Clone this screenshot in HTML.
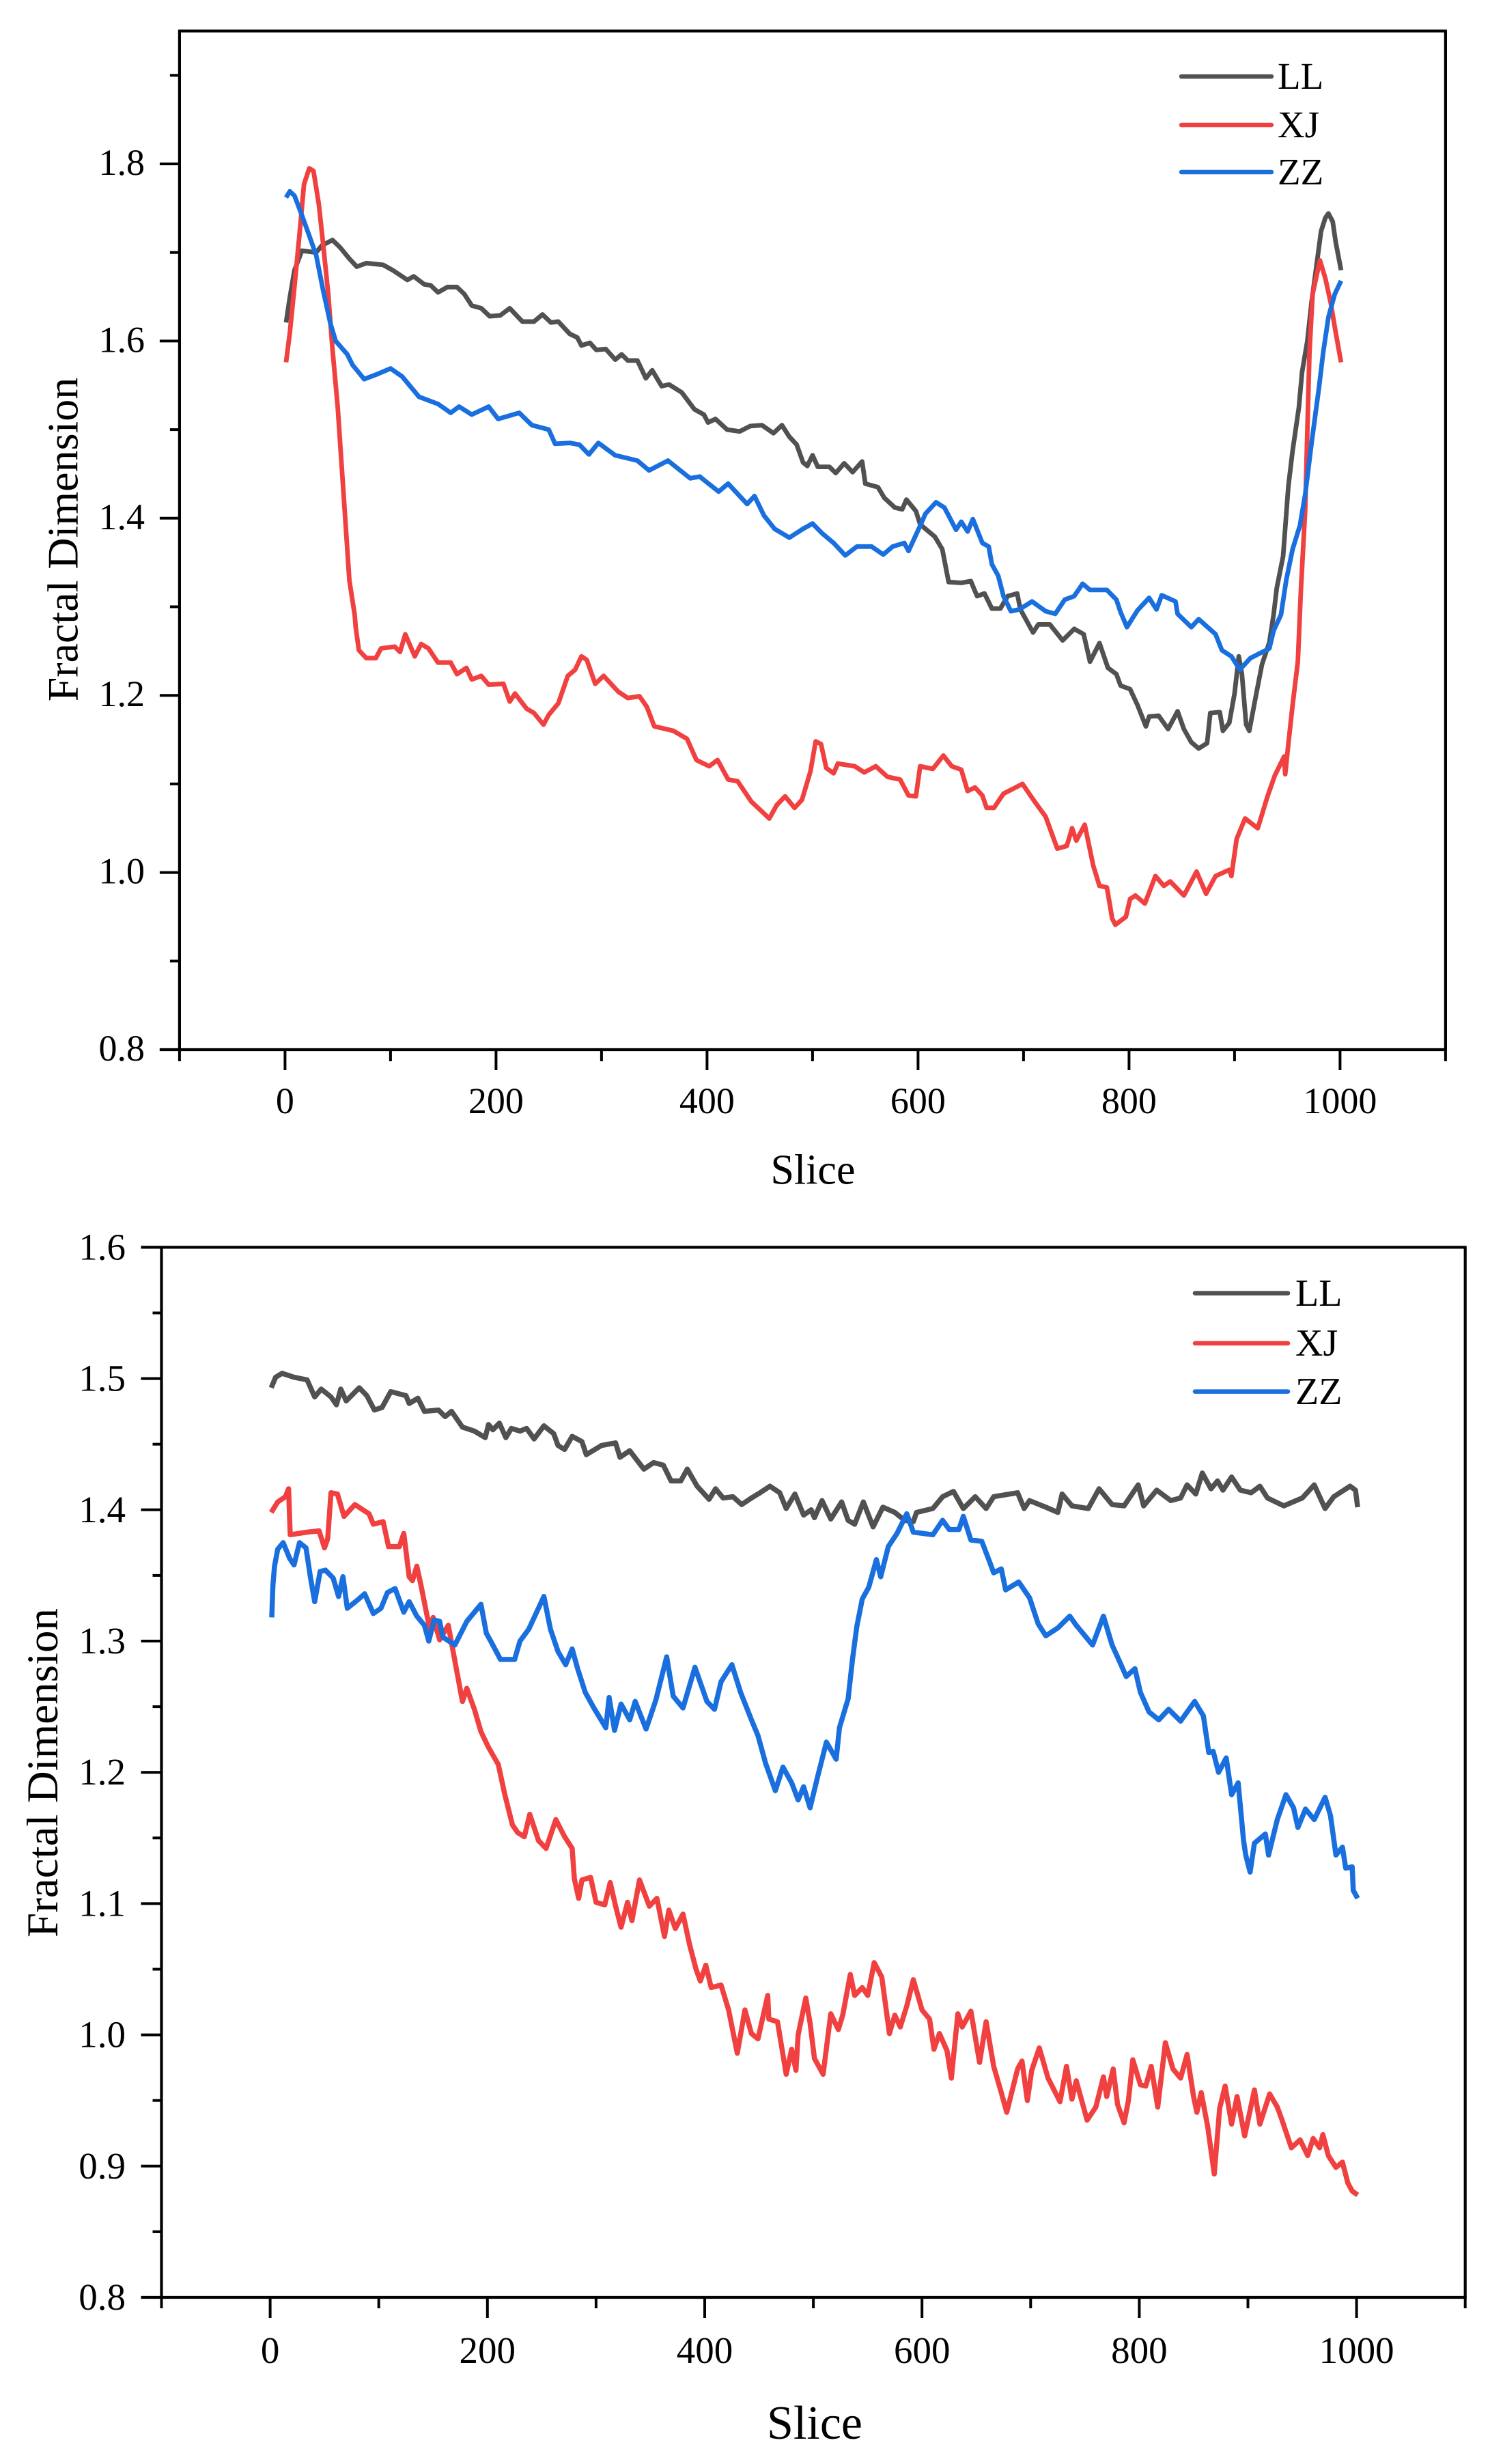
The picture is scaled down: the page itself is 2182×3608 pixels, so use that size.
<!DOCTYPE html>
<html>
<head>
<meta charset="utf-8">
<title>Fractal Dimension by Slice</title>
<style>
html,body{margin:0;padding:0;background:#fff;}
svg{display:block;}
text{font-family:"Liberation Serif",serif;fill:#000;}
</style>
</head>
<body>
<svg id="figure" xmlns="http://www.w3.org/2000/svg" width="2182" height="3608" viewBox="0 0 2182 3608"></svg>
<script>
// Tick values
const topYMajor = [0.8, 1.0, 1.2, 1.4, 1.6, 1.8];
const topYMinor = [0.9, 1.1, 1.3, 1.5, 1.7, 1.9];
const bottomYMajor = [0.8, 0.9, 1.0, 1.1, 1.2, 1.3, 1.4, 1.5, 1.6];
const bottomYMinor = [0.85, 0.95, 1.05, 1.15, 1.25, 1.35, 1.45, 1.55];
const xMajor = [0, 200, 400, 600, 800, 1000];
const xMinor = [-100, 100, 300, 500, 700, 900, 1100];
const seriesNames = ["LL", "XJ", "ZZ"];

// Top chart: LL
const topLLSlice = [1,4.5,9,16,29.5,35,45,52,61,68,77,93,102,116,122,132,138,145,154,163,170,177,186,194,204,213,225,236,244,252,259,270,277,281,289,295,304,313,319,325,334,342,348,357,364,376,388,397,401,408,419,431,441,452,463,471,478,485,491,495,500,505,516,522,530,538,547,550,562,568,578,585,589,598,602,616,623,629,641,650,656,663,670,678,685,694,697,709,714,725,737,748,757,763,772,780,788,792,801,808,816,819,828,837,846,852,859,866,874,877,886,889,895,900,904,907,911,914,920,926,933,937,940,946,951,955,961,964,969,973,978,982,986,989,993,996,1001];
const topLLValue = [1.621,1.649,1.680,1.702,1.700,1.708,1.714,1.706,1.693,1.684,1.688,1.686,1.680,1.669,1.673,1.664,1.663,1.655,1.661,1.661,1.653,1.640,1.637,1.628,1.629,1.637,1.622,1.622,1.630,1.621,1.622,1.608,1.604,1.595,1.598,1.590,1.591,1.579,1.585,1.578,1.578,1.558,1.567,1.549,1.551,1.542,1.523,1.517,1.508,1.512,1.500,1.498,1.504,1.505,1.496,1.505,1.492,1.483,1.463,1.459,1.471,1.458,1.458,1.451,1.462,1.452,1.464,1.439,1.435,1.423,1.412,1.410,1.421,1.408,1.393,1.379,1.365,1.328,1.327,1.329,1.312,1.315,1.298,1.298,1.312,1.315,1.297,1.271,1.280,1.280,1.262,1.275,1.269,1.238,1.259,1.231,1.224,1.211,1.207,1.189,1.165,1.176,1.177,1.162,1.182,1.162,1.147,1.140,1.146,1.180,1.181,1.160,1.169,1.202,1.244,1.224,1.167,1.160,1.198,1.235,1.260,1.291,1.321,1.357,1.436,1.476,1.525,1.565,1.600,1.644,1.688,1.724,1.739,1.744,1.735,1.711,1.680];

// Top chart: XJ
const topXJSlice = [1,4.5,9,13.6,18,23,27,32,36,41,45,50,54,58,61,66,67,70,77,86,91,104,109,114,123,129,136,145,157,163,172,177,186,193,207,213,218,229,236,245,250,259,268,275,281,286,294,302,316,325,336,343,350,368,381,390,402,410,420,429,442,459,466,474,483,490,498,503,508,513,520,524,540,549,560,571,583,591,598,602,614,624,632,641,647,654,661,665,672,681,699,710,721,732,741,746,750,758,766,772,779,784,787,797,801,806,815,825,833,839,852,864,873,882,895,897,902,910,922,931,938,947,948,951,955,960,963,967,969,971,974,978,981,986,991,996,1001];
const topXJValue = [1.576,1.609,1.662,1.719,1.777,1.795,1.792,1.755,1.711,1.653,1.591,1.525,1.454,1.383,1.330,1.291,1.277,1.251,1.242,1.242,1.253,1.255,1.249,1.269,1.244,1.258,1.253,1.237,1.237,1.224,1.231,1.218,1.222,1.212,1.213,1.193,1.202,1.185,1.180,1.167,1.178,1.191,1.222,1.229,1.244,1.240,1.213,1.222,1.204,1.197,1.199,1.187,1.165,1.160,1.151,1.127,1.120,1.127,1.105,1.103,1.080,1.061,1.076,1.086,1.073,1.082,1.114,1.148,1.145,1.118,1.112,1.123,1.120,1.113,1.120,1.108,1.105,1.087,1.086,1.120,1.117,1.132,1.120,1.116,1.092,1.096,1.087,1.073,1.073,1.089,1.100,1.081,1.063,1.027,1.030,1.050,1.036,1.054,1.008,0.985,0.983,0.948,0.941,0.950,0.970,0.974,0.965,0.996,0.985,0.990,0.974,1.001,0.976,0.996,1.003,0.996,1.038,1.061,1.050,1.085,1.109,1.131,1.111,1.145,1.189,1.238,1.321,1.410,1.498,1.587,1.653,1.675,1.691,1.671,1.644,1.609,1.576];

// Top chart: ZZ
const topZZSlice = [1,4.5,9,16,23,29.5,36,43,48,59,64,75,86,100,111,127,145,157,165,177,193,202,222,234,250,256,270,279,288,297,313,334,345,363,384,393,411,420,438,445,454,464,478,491,500,509,520,531,542,556,567,576,587,591,603,607,617,625,636,641,647,652,661,667,670,676,681,688,696,708,721,730,739,748,756,763,779,788,792,798,808,819,826,831,844,846,859,866,882,888,897,905,915,933,937,944,949,955,962,967,973,980,984,989,995,1001];
const topZZValue = [1.762,1.769,1.764,1.742,1.719,1.697,1.658,1.620,1.600,1.585,1.573,1.557,1.562,1.569,1.560,1.537,1.529,1.519,1.526,1.517,1.526,1.512,1.519,1.505,1.500,1.484,1.485,1.483,1.472,1.485,1.471,1.465,1.454,1.465,1.445,1.447,1.430,1.439,1.416,1.425,1.403,1.388,1.378,1.388,1.394,1.383,1.372,1.358,1.368,1.368,1.359,1.368,1.372,1.363,1.394,1.405,1.418,1.412,1.387,1.396,1.385,1.399,1.372,1.368,1.348,1.335,1.312,1.295,1.297,1.306,1.295,1.292,1.308,1.312,1.326,1.319,1.319,1.308,1.294,1.277,1.296,1.310,1.297,1.313,1.306,1.292,1.277,1.286,1.269,1.251,1.244,1.229,1.242,1.253,1.273,1.291,1.330,1.365,1.392,1.427,1.485,1.547,1.587,1.627,1.653,1.668];

// Bottom chart: LL
const bottomLLSlice = [1,5,11,22,34,41,47,56,61,65,70,82,89,96,103,111,125,128,136,142,155,161,167,177,188,198,201,205,211,217,222,230,236,243,252,261,265,271,278,287,291,305,318,322,331,344,353,362,369,378,384,393,404,410,417,426,434,443,451,460,469,475,483,491,498,501,508,516,526,532,538,546,555,564,575,584,592,595,610,619,629,638,649,659,666,688,694,699,714,725,729,738,753,763,775,786,799,804,816,829,838,844,852,858,866,872,877,885,893,903,911,918,933,950,961,971,979,994,999,1001];
const bottomLLValue = [1.493,1.501,1.504,1.501,1.499,1.486,1.492,1.486,1.480,1.492,1.483,1.493,1.487,1.476,1.478,1.490,1.487,1.481,1.485,1.475,1.476,1.471,1.475,1.463,1.460,1.455,1.465,1.461,1.466,1.455,1.462,1.460,1.462,1.454,1.464,1.458,1.449,1.446,1.456,1.452,1.442,1.449,1.451,1.440,1.445,1.431,1.436,1.434,1.422,1.422,1.431,1.418,1.408,1.416,1.409,1.410,1.404,1.409,1.413,1.418,1.413,1.401,1.412,1.396,1.400,1.394,1.407,1.393,1.406,1.392,1.389,1.406,1.387,1.402,1.398,1.392,1.391,1.398,1.401,1.410,1.414,1.401,1.410,1.401,1.410,1.413,1.401,1.407,1.402,1.398,1.412,1.403,1.401,1.416,1.404,1.403,1.419,1.403,1.415,1.407,1.409,1.419,1.412,1.428,1.416,1.422,1.415,1.425,1.415,1.413,1.418,1.409,1.403,1.409,1.419,1.401,1.410,1.418,1.415,1.402];

// Bottom chart: XJ
const bottomXJSlice = [1,7,14,17,18.5,34,45,50,53,56,62,68,78,91,95,104,109,119,123,128,131,135,139,144,147,150,156,164,168,172,177,181,188,194,201,210,216,223,228,234,239,247,254,263,271,278,280,284,287,295,300,308,313,318,323,329,333,340,349,356,363,367,373,380,386,392,396,401,406,415,422,430,437,443,449,458,459,467,475,480,484,486,493,497,501,509,516,523,527,534,538,545,550,556,563,570,575,580,586,592,600,607,611,616,623,627,633,637,645,653,659,666,673,678,688,692,697,701,708,716,727,733,738,742,752,760,767,770,776,780,786,790,794,801,806,811,817,824,831,838,844,850,853,857,863,869,874,879,885,890,897,906,911,920,927,931,940,948,955,960,966,969,974,981,987,992,996,1001];
const bottomXJValue = [1.398,1.406,1.410,1.416,1.381,1.383,1.384,1.371,1.378,1.413,1.412,1.395,1.404,1.397,1.389,1.391,1.372,1.372,1.382,1.349,1.346,1.357,1.342,1.321,1.309,1.318,1.301,1.312,1.294,1.276,1.254,1.264,1.248,1.231,1.219,1.206,1.183,1.160,1.154,1.151,1.168,1.148,1.142,1.164,1.151,1.142,1.119,1.104,1.118,1.120,1.101,1.099,1.116,1.098,1.082,1.101,1.087,1.118,1.098,1.104,1.075,1.095,1.081,1.092,1.069,1.050,1.041,1.053,1.036,1.038,1.019,0.986,1.019,1.001,0.997,1.030,1.012,1.010,0.970,0.989,0.973,1.000,1.028,1.009,0.982,0.970,1.016,1.004,1.015,1.046,1.030,1.036,1.030,1.055,1.044,1.001,1.015,1.006,1.022,1.042,1.019,1.012,0.989,1.001,0.988,0.967,1.016,1.006,1.018,0.979,1.010,0.976,0.956,0.941,0.974,0.980,0.950,0.973,0.990,0.967,0.949,0.976,0.951,0.965,0.935,0.945,0.968,0.953,0.974,0.947,0.933,0.950,0.981,0.962,0.961,0.976,0.945,0.994,0.974,0.967,0.985,0.953,0.941,0.956,0.930,0.894,0.944,0.961,0.932,0.953,0.923,0.958,0.932,0.955,0.945,0.936,0.914,0.920,0.908,0.921,0.914,0.924,0.908,0.899,0.903,0.887,0.881,0.878];

// Bottom chart: ZZ
const bottomZZSlice = [1.5,2.5,4,7,12,18,22,27,33,37,41,46,51,58,63,67,71,80,87,95,102,108,115,123,128,135,142,146,151,156,159,170,181,194,199,203,212,225,230,238,252,258,265,272,278,283,290,298,309,312,317,323,331,336,346,355,365,371,380,391,402,409,415,425,433,443,449,456,465,472,480,486,491,497,504,512,521,524,532,536,540,545,551,558,562,569,577,586,592,610,619,625,634,638,645,655,662,666,673,677,689,699,707,714,725,736,742,757,767,775,781,788,796,801,809,818,827,838,851,859,864,868,873,880,885,891,896,898,902,906,916,919,927,935,942,946,953,961,971,976,981,987,990,996,997,1001];
const bottomZZValue = [1.318,1.342,1.357,1.370,1.375,1.363,1.358,1.375,1.371,1.349,1.330,1.353,1.354,1.348,1.334,1.349,1.325,1.331,1.336,1.321,1.325,1.337,1.340,1.322,1.330,1.319,1.312,1.300,1.316,1.315,1.303,1.297,1.315,1.328,1.306,1.300,1.286,1.286,1.300,1.309,1.334,1.309,1.292,1.282,1.294,1.279,1.261,1.249,1.234,1.257,1.232,1.252,1.240,1.254,1.233,1.255,1.288,1.258,1.249,1.280,1.254,1.248,1.269,1.282,1.261,1.240,1.228,1.207,1.186,1.204,1.192,1.179,1.189,1.173,1.197,1.223,1.210,1.234,1.256,1.286,1.311,1.332,1.341,1.362,1.349,1.372,1.382,1.397,1.383,1.381,1.392,1.385,1.385,1.395,1.377,1.376,1.361,1.352,1.355,1.339,1.345,1.333,1.313,1.304,1.310,1.319,1.312,1.297,1.319,1.297,1.286,1.273,1.279,1.261,1.246,1.240,1.248,1.239,1.254,1.243,1.215,1.216,1.200,1.211,1.183,1.192,1.148,1.137,1.124,1.146,1.153,1.137,1.164,1.183,1.173,1.158,1.172,1.164,1.181,1.167,1.137,1.143,1.127,1.128,1.110,1.104];

const colorLL = "#515151";
const colorXJ = "#F14040";
const colorZZ = "#1A6FDF";

const svg = document.getElementById("figure");
const NS = "http://www.w3.org/2000/svg";

function shape(tag, attrs, parent) {
  const el = document.createElementNS(NS, tag);
  for (const k in attrs) el.setAttribute(k, attrs[k]);
  parent.appendChild(el);
  return el;
}

function makeAxes(geo) {
  return {
    x: function (slice) { return geo.xZero + slice * geo.xPerUnit; },
    y: function (value) { return geo.yBase - (value - geo.yMin) * geo.yPerUnit; }
  };
}

function drawChart(prefix, geo, yMajor, yMinor, series) {
  const axes = makeAxes(geo);
  const left = axes.x(-100), right = axes.x(1100), bottom = axes.y(geo.yMin), top = axes.y(geo.yMax);
  const group = shape("g", {}, svg);
  
  

  series.forEach(function (s) {
    const pts = s.slices.map(function (sl, i) { return axes.x(sl).toFixed(1) + "," + axes.y(s.values[i]).toFixed(1); }).join(" ");
    const line = shape("polyline", { points: pts, fill: "none", stroke: s.color, "stroke-width": geo.lineWidth, "stroke-linejoin": "round", "stroke-linecap": "butt" }, group);
    
    
  });

  const frame = [
    ["left-axis", left, top, left, bottom],
    ["bottom-axis", left - geo.yMajorLen, bottom, right + 2, bottom],
    ["top-border", left - (geo.yMax === 1.6 ? geo.yMajorLen : 2), top, right + 2, top],
    ["right-border", right, top, right, bottom]
  ];
  frame.forEach(function (f) {
    const seg = shape("line", { x1: f[1], y1: f[2], x2: f[3], y2: f[4], stroke: "#000", "stroke-width": 4.2 }, group);
    
    
  });

  xMajor.forEach(function (v) {
    const tick = shape("line", { x1: axes.x(v), y1: bottom, x2: axes.x(v), y2: bottom + geo.xMajorLen, stroke: "#000", "stroke-width": 4 }, group);
    
    
    const label = shape("text", { x: axes.x(v), y: geo.xLabelY, "font-size": geo.tickFont, "text-anchor": "middle" }, group);
    label.textContent = String(v);
    
    
  });
  xMinor.forEach(function (v) {
    const tick = shape("line", { x1: axes.x(v), y1: bottom, x2: axes.x(v), y2: bottom + geo.xMinorLen, stroke: "#000", "stroke-width": 4 }, group);
    
    
  });
  yMajor.forEach(function (v) {
    const tick = shape("line", { x1: left, y1: axes.y(v), x2: left - geo.yMajorLen, y2: axes.y(v), stroke: "#000", "stroke-width": 4 }, group);
    
    
    const label = shape("text", { x: geo.yLabelRight, y: axes.y(v) + geo.yLabelDrop, "font-size": geo.tickFont, "text-anchor": "end" }, group);
    label.textContent = v.toFixed(1);
    
    
  });
  yMinor.forEach(function (v) {
    const tick = shape("line", { x1: left, y1: axes.y(v), x2: left - geo.yMinorLen, y2: axes.y(v), stroke: "#000", "stroke-width": 4 }, group);
    
    
  });

  const xTitle = shape("text", { x: geo.xTitleX, y: geo.xTitleY, "font-size": geo.xTitleFont, "text-anchor": "middle" }, group);
  xTitle.textContent = "Slice";
  
  

  const yTitle = shape("text", { transform: "translate(" + geo.yTitleX + "," + geo.yTitleY + ") rotate(-90)", "font-size": geo.yTitleFont, "text-anchor": "middle" }, group);
  yTitle.textContent = "Fractal Dimension";
  
  

  series.forEach(function (s, i) {
    const swatch = shape("line", { x1: geo.legendX1, x2: geo.legendX2, y1: geo.legendLineY[i], y2: geo.legendLineY[i], stroke: s.color, "stroke-width": 6.5, "stroke-linecap": "round" }, group);
    
    
    const entry = shape("text", { x: geo.legendTextX, y: geo.legendTextY[i], "font-size": geo.legendFont }, group);
    entry.textContent = seriesNames[i];
    
    
  });
}

const topGeo = {
  xZero: 417.4, xPerUnit: 1.545, yBase: 1537, yMin: 0.8, yMax: 1.95, yPerUnit: 1297,
  lineWidth: 6.8, xMajorLen: 30, xMinorLen: 17, yMajorLen: 29, yMinorLen: 14,
  tickFont: 54, xLabelY: 1630, yLabelRight: 212, yLabelDrop: 16,
  xTitleX: 1190.5, xTitleY: 1733.5, xTitleFont: 62,
  yTitleX: 113.5, yTitleY: 790, yTitleFont: 64,
  legendX1: 1730, legendX2: 1862, legendLineY: [112, 183, 252],
  legendTextX: 1871, legendTextY: [130, 201, 270], legendFont: 55
};

const bottomGeo = {
  xZero: 395.6, xPerUnit: 1.591, yBase: 3364, yMin: 0.8, yMax: 1.6, yPerUnit: 1922,
  lineWidth: 7.5, xMajorLen: 30, xMinorLen: 16, yMajorLen: 30, yMinorLen: 13,
  tickFont: 55, xLabelY: 3460, yLabelRight: 184, yLabelDrop: 18,
  xTitleX: 1193, xTitleY: 3571, xTitleFont: 70,
  yTitleX: 84, yTitleY: 2596, yTitleFont: 65,
  legendX1: 1750, legendX2: 1886, legendLineY: [1893.6, 1967, 2037.6],
  legendTextX: 1897, legendTextY: [1912, 1985, 2056], legendFont: 56
};

drawChart("top", topGeo, topYMajor, topYMinor, [
  { name: "LL", color: colorLL, slices: topLLSlice, values: topLLValue },
  { name: "XJ", color: colorXJ, slices: topXJSlice, values: topXJValue },
  { name: "ZZ", color: colorZZ, slices: topZZSlice, values: topZZValue }
]);
drawChart("bottom", bottomGeo, bottomYMajor, bottomYMinor, [
  { name: "LL", color: colorLL, slices: bottomLLSlice, values: bottomLLValue },
  { name: "XJ", color: colorXJ, slices: bottomXJSlice, values: bottomXJValue },
  { name: "ZZ", color: colorZZ, slices: bottomZZSlice, values: bottomZZValue }
]);
</script>
</body>
</html>
